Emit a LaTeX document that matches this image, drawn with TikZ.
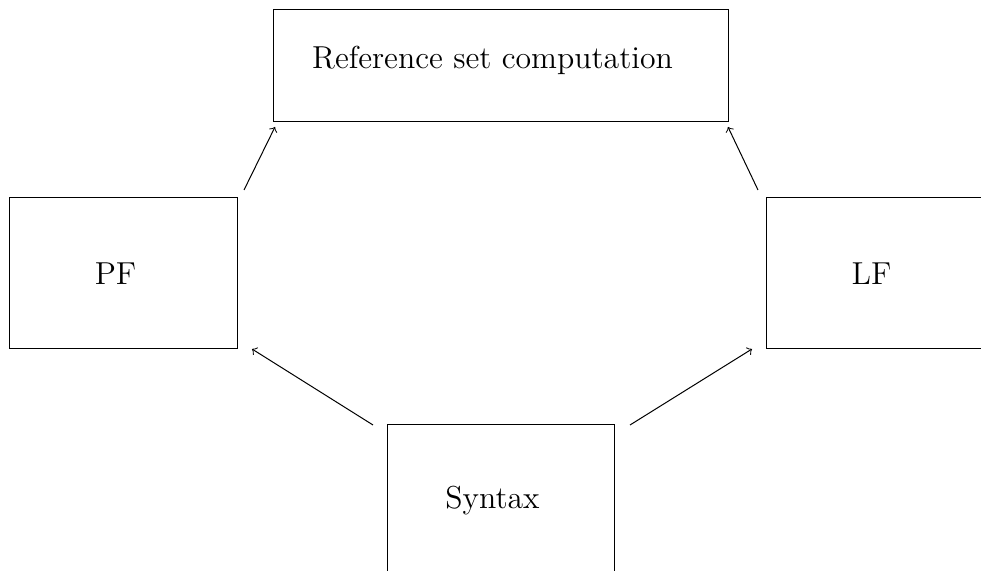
\documentclass[tikz,border=0pt]{standalone}
\begin{document}
\begin{tikzpicture}[x=0.4pt,y=-0.4pt,
  box/.style={draw,rectangle,inner sep=0pt,outer sep=0pt},
  wide/.style={box,minimum width=181.6pt,minimum height=44.8pt},
  std/.style={box,minimum width=90.8pt,minimum height=60.4pt},
  lbl/.style={font=\fontsize{12.7}{15}\selectfont,inner sep=0pt,xshift=-3.2pt},
  conn/.style={->}]
\useasboundingbox (0,0) rectangle (981,571);
\clip (0,0) rectangle (981,571);
\node[wide,label={[lbl,xshift=-0.2pt,yshift=2.4pt]center:Reference set computation}] (ref) at (501,66) {};
\node[std,label={[lbl]center:PF}] (pf) at (123.5,273.5) {};
\node[std,label={[lbl]center:LF}] (lf) at (879.5,273.5) {};
\node[std,label={[lbl]center:Syntax}] (syn) at (500.5,500.5) {};
\draw[conn] ([shift={(7,-8)}]pf.north east) -- ([shift={(1,5)}]ref.south west);
\draw[conn] ([shift={(-8,-8)}]lf.north west) -- ([shift={(0,5)}]ref.south east);
\draw[conn] ([shift={(-14,0)}]syn.north west) -- ([shift={(15,0)}]pf.south east);
\draw[conn] ([shift={(16,0)}]syn.north east) -- ([shift={(-14,0)}]lf.south west);
\end{tikzpicture}
\end{document}
